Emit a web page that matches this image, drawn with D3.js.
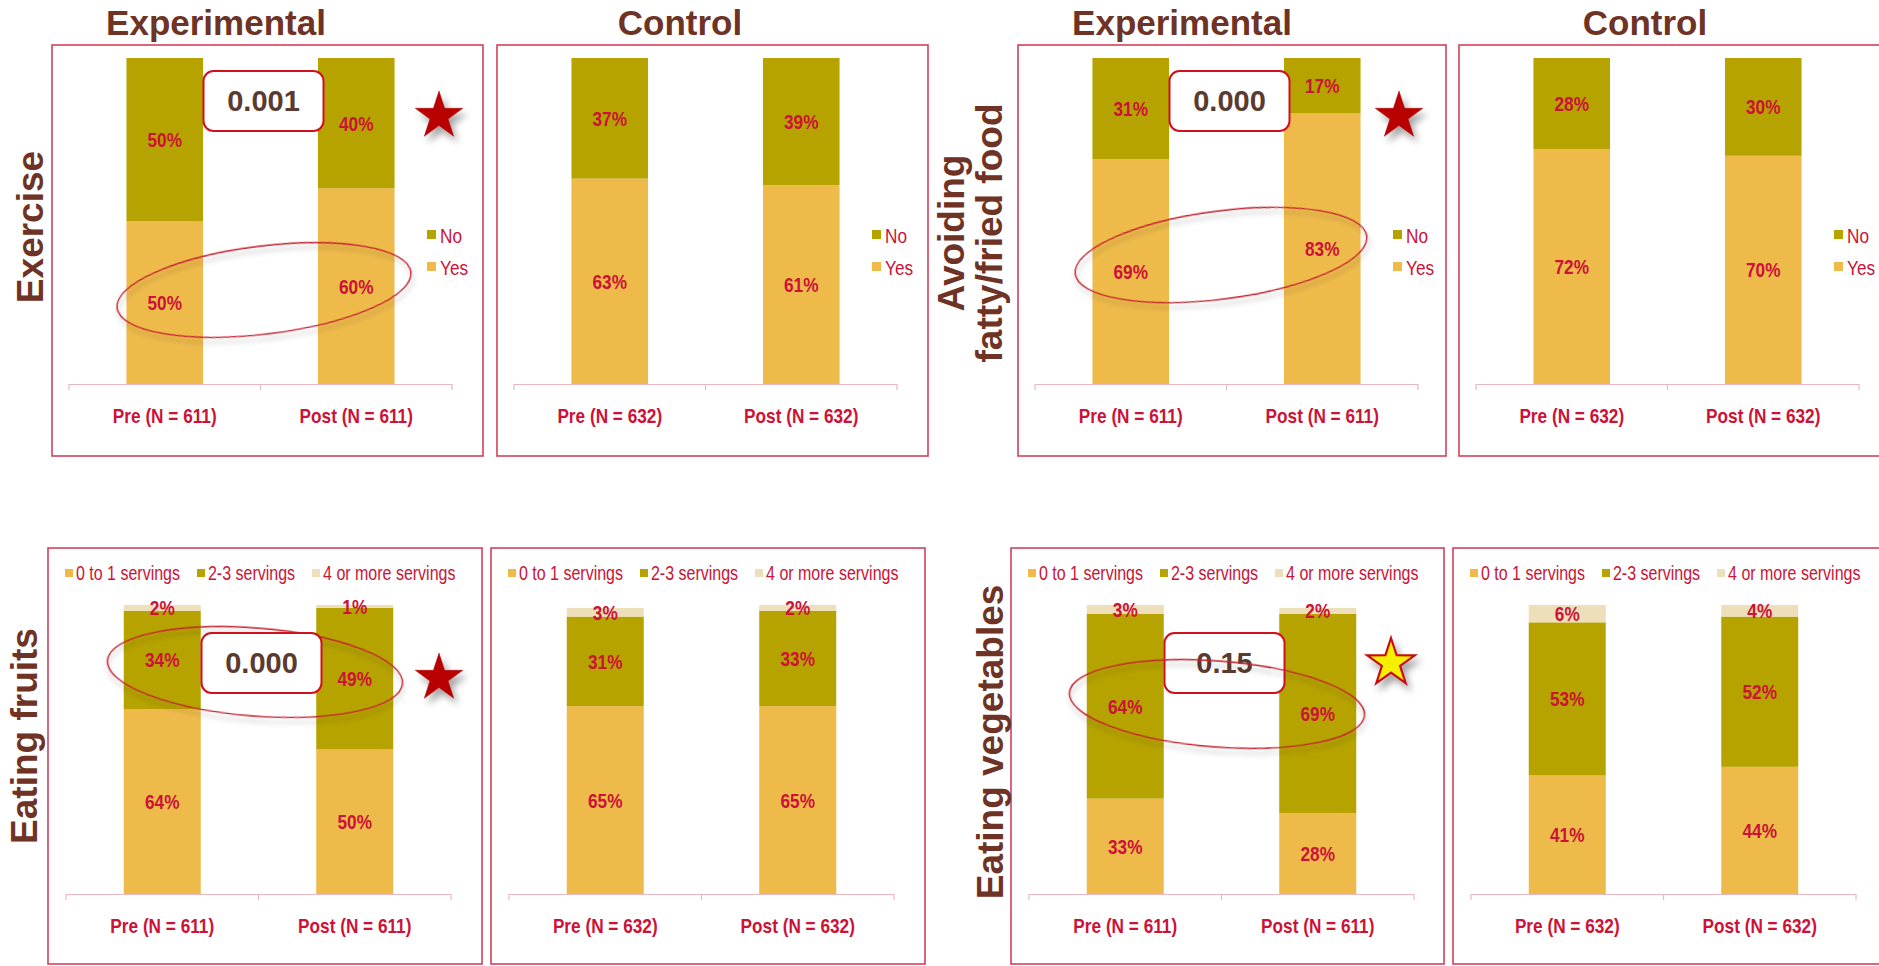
<!DOCTYPE html>
<html>
<head>
<meta charset="utf-8">
<script src="https://cdn.jsdelivr.net/npm/d3@7"></script>
<style>
  html, body { margin: 0; padding: 0; background: #ffffff; }
  svg { display: block; }
  .narrow { font-family: "Liberation Sans", Arial, sans-serif; }
  .wide { font-family: "Liberation Sans", Arial, sans-serif; }
</style>
</head>
<body>
<svg id="chart" width="1879" height="966"></svg>
<script>
// ---- data -------------------------------------------------------------
const groupNames = ["Experimental", "Control"];
const expTimepoints = ["Pre (N = 611)", "Post (N = 611)"];
const ctlTimepoints = ["Pre (N = 632)", "Post (N = 632)"];

const binaryKeys = ["Yes", "No"];
const servingKeys = ["0 to 1 servings", "2-3 servings", "4 or more servings"];

// Exercise
const exerciseExpYes = [50, 60];
const exerciseExpNo  = [50, 40];
const exerciseCtlYes = [63, 61];
const exerciseCtlNo  = [37, 39];

// Avoiding fatty/fried food
const fattyExpYes = [69, 83];
const fattyExpNo  = [31, 17];
const fattyCtlYes = [72, 70];
const fattyCtlNo  = [28, 30];

// Eating fruits
const fruitsExpLow  = [64, 50];
const fruitsExpMid  = [34, 49];
const fruitsExpHigh = [2, 1];
const fruitsCtlLow  = [65, 65];
const fruitsCtlMid  = [31, 33];
const fruitsCtlHigh = [3, 2];

// Eating vegetables
const vegExpLow  = [33, 28];
const vegExpMid  = [64, 69];
const vegExpHigh = [3, 2];
const vegCtlLow  = [41, 44];
const vegCtlMid  = [53, 52];
const vegCtlHigh = [6, 4];

const behaviourLabels = [["Exercise"], ["Avoiding", "fatty/fried food"], ["Eating fruits"], ["Eating vegetables"]];
const pValues = ["0.001", "0.000", "0.000", "0.15"];
const significant = [true, true, true, false];

// ---- styling ----------------------------------------------------------
const seriesColor = {
  "Yes": "#EEBB4B", "No": "#B6A300",
  "0 to 1 servings": "#EEBB4B", "2-3 servings": "#B6A300", "4 or more servings": "#EDDFBA"
};
const crimson = "#CC1236";
const brown = "#6E3325";
const frameColor = "#D4405A";
const axisColor = "#EBB7BF";
const condense = 0.82;   // horizontal squeeze for the condensed chart lettering

const svg = d3.select("#chart");
const defs = svg.append("defs");
defs.append("filter").attr("id", "starShadow")
  .attr("x", "-50%").attr("y", "-50%").attr("width", "200%").attr("height", "200%")
  .append("feDropShadow").attr("dx", 4).attr("dy", 6).attr("stdDeviation", 3.5)
  .attr("flood-color", "#000").attr("flood-opacity", 0.35);
defs.append("filter").attr("id", "ringShadow")
  .attr("x", "-20%").attr("y", "-40%").attr("width", "140%").attr("height", "180%")
  .append("feDropShadow").attr("dx", 1).attr("dy", 5).attr("stdDeviation", 2.5)
  .attr("flood-color", "#000").attr("flood-opacity", 0.28);

// condensed text placed at (x, y)
function narrowText(parent, x, y, str, size, weight, anchor) {
  return parent.append("text").attr("class", "narrow")
    .attr("transform", `translate(${x},${y}) scale(${condense},1)`)
    .attr("dy", "0.36em")
    .attr("text-anchor", anchor || "start")
    .attr("font-size", size).attr("font-weight", weight || "normal")
    .attr("fill", crimson)
    .text(str);
}

// ---- panel definitions --------------------------------------------------
function binaryRows(yes, no) {
  return [0, 1].map(i => ({ Yes: yes[i], No: no[i] }));
}
function servingRows(low, mid, high) {
  return [0, 1].map(i => ({ "0 to 1 servings": low[i], "2-3 servings": mid[i], "4 or more servings": high[i] }));
}

const panels = [
  { box: [52, 45, 431, 411],  kind: "binary",  group: 0, rows: binaryRows(exerciseExpYes, exerciseExpNo), cats: expTimepoints },
  { box: [497, 45, 431, 411], kind: "binary",  group: 1, rows: binaryRows(exerciseCtlYes, exerciseCtlNo), cats: ctlTimepoints },
  { box: [1018, 45, 428, 411], kind: "binary", group: 0, rows: binaryRows(fattyExpYes, fattyExpNo), cats: expTimepoints },
  { box: [1459, 45, 431, 411], kind: "binary", group: 1, rows: binaryRows(fattyCtlYes, fattyCtlNo), cats: ctlTimepoints },
  { box: [48, 548, 434, 416],  kind: "serving", group: 0, rows: servingRows(fruitsExpLow, fruitsExpMid, fruitsExpHigh), cats: expTimepoints },
  { box: [491, 548, 434, 416], kind: "serving", group: 1, rows: servingRows(fruitsCtlLow, fruitsCtlMid, fruitsCtlHigh), cats: ctlTimepoints },
  { box: [1011, 548, 433, 416], kind: "serving", group: 0, rows: servingRows(vegExpLow, vegExpMid, vegExpHigh), cats: expTimepoints },
  { box: [1453, 548, 434, 416], kind: "serving", group: 1, rows: servingRows(vegCtlLow, vegCtlMid, vegCtlHigh), cats: ctlTimepoints }
];

panels.forEach(p => {
  const [bx, by, bw, bh] = p.box;
  const keys = p.kind === "binary" ? binaryKeys : servingKeys;
  const top = p.kind === "binary" ? { x0: 17, x1: 400, yBase: 339, yTop: 13, cat: 370 }
                                  : { x0: 18, x1: 403, yBase: 346, yTop: 57, cat: 377 };
  const g = svg.append("g").attr("transform", `translate(${bx},${by})`);
  p.g = g;

  g.append("rect").attr("x", 0).attr("y", 0).attr("width", bw).attr("height", bh)
    .attr("fill", "none").attr("stroke", frameColor).attr("stroke-width", 1.6);

  const x = d3.scaleBand().domain(p.cats).range([top.x0, top.x1])
    .paddingInner(0.6).paddingOuter(0.3);
  const y = d3.scaleLinear().domain([0, 100]).range([top.yBase, top.yTop]);
  p.x = x; p.y = y; p.top = top;

  const stacked = d3.stack().keys(keys)(p.rows.map((r, i) => Object.assign({ cat: p.cats[i] }, r)));

  const layers = g.selectAll("g.layer").data(stacked).join("g").attr("class", "layer")
    .attr("fill", d => seriesColor[d.key]);
  layers.selectAll("rect").data(d => d).join("rect")
    .attr("x", d => x(d.data.cat))
    .attr("width", x.bandwidth())
    .attr("y", d => y(d[1]))
    .attr("height", d => y(d[0]) - y(d[1]));

  // value labels centred in each segment
  stacked.forEach(layer => {
    layer.forEach(d => {
      narrowText(g, x(d.data.cat) + x.bandwidth() / 2, (y(d[0]) + y(d[1])) / 2,
        (d[1] - d[0]) + "%", 21, "bold", "middle");
    });
  });

  // category axis with boundary ticks
  const ax = g.append("g");
  ax.append("line").attr("x1", top.x0).attr("x2", top.x1)
    .attr("y1", top.yBase + 0.5).attr("y2", top.yBase + 0.5)
    .attr("stroke", axisColor).attr("stroke-width", 1.2);
  const bounds = [top.x0, top.x0 + (top.x1 - top.x0) / 2, top.x1];
  ax.selectAll("line.tick").data(bounds).join("line").attr("class", "tick")
    .attr("x1", d => d).attr("x2", d => d)
    .attr("y1", top.yBase).attr("y2", top.yBase + 6)
    .attr("stroke", axisColor).attr("stroke-width", 1.2);
  p.cats.forEach(c => {
    narrowText(ax, x(c) + x.bandwidth() / 2, top.cat, c, 21, "bold", "middle");
  });

  // legends
  if (p.kind === "binary") {
    const lg = g.append("g").attr("transform", "translate(375,0)");
    ["No", "Yes"].forEach((k, i) => {
      const cy = 190 + i * 32;
      lg.append("rect").attr("x", 0).attr("y", cy - 5).attr("width", 9).attr("height", 9)
        .attr("fill", seriesColor[k]);
      narrowText(lg, 13, cy, k, 21, "normal", "start");
    });
  } else {
    let cx = 17;
    servingKeys.forEach(k => {
      g.append("rect").attr("x", cx).attr("y", 21).attr("width", 8).attr("height", 8)
        .attr("fill", seriesColor[k]);
      const t = narrowText(g, cx + 11, 25, k, 19.5, "normal", "start");
      cx += 11 + t.node().getComputedTextLength() * condense + 17;
    });
  }
});

// ---- column titles ------------------------------------------------------
[[0, 164], [1, 183], [2, 164], [3, 186]].forEach(([i, dx]) => {
  const p = panels[i];
  svg.append("text").attr("class", "wide")
    .attr("x", p.box[0] + dx).attr("y", 35)
    .attr("text-anchor", "middle")
    .attr("font-size", 35).attr("font-weight", "bold")
    .attr("fill", brown)
    .text(groupNames[p.group]);
});

// ---- row (behaviour) labels ----------------------------------------------
const rowLabelPos = [[43, 227], [1002, 233], [37, 736], [1003, 742]];
behaviourLabels.forEach((lines, i) => {
  const [bx, cy] = rowLabelPos[i];
  const t = svg.append("text").attr("class", "wide")
    .attr("transform", `translate(${bx},${cy}) rotate(-90)`)
    .attr("text-anchor", "middle")
    .attr("font-size", 37).attr("font-weight", "bold")
    .attr("fill", brown);
  lines.forEach((ln, j) => {
    t.append("tspan").attr("x", 0).attr("y", -(lines.length - 1 - j) * 38).text(ln);
  });
});

// ---- annotations: highlight rings, p-value boxes, stars --------------------
const experimentalPanels = [0, 2, 4, 6];
const ringGeom = [
  { cx: 264, cy: 290, rx: 148, ry: 44, rot: -7 },
  { cx: 1221, cy: 255, rx: 147, ry: 44, rot: -7.4 },
  { cx: 255, cy: 672, rx: 148, ry: 44, rot: 4.5 },
  { cx: 1217, cy: 704, rx: 148, ry: 43, rot: 4.4 }
];
const pBoxY = [71, 71, 633, 633];
const starPos = [[439, 116], [1399, 116], [439, 678], [1391, 663]];

function starPath(cx, cy, R) {
  const r = R * 0.382;
  const pts = d3.range(10).map(k => {
    const a = -Math.PI / 2 + k * Math.PI / 5;
    const rad = k % 2 === 0 ? R : r;
    return [cx + rad * Math.cos(a), cy + rad * Math.sin(a)];
  });
  return d3.line()(pts) + "Z";
}

function drawRing(i) {
  const e = ringGeom[i];
  svg.append("ellipse")
    .attr("transform", `translate(${e.cx},${e.cy}) rotate(${e.rot})`)
    .attr("rx", e.rx).attr("ry", e.ry)
    .attr("fill", "none").attr("stroke", "#C4222E").attr("stroke-width", 1.4)
    .attr("filter", "url(#ringShadow)");
}
function drawPBox(i) {
  const p = panels[experimentalPanels[i]];
  const mid = p.box[0] + p.top.x0 + (p.top.x1 - p.top.x0) / 2 + 3;
  const yb = pBoxY[i];
  svg.append("rect").attr("x", mid - 60).attr("y", yb).attr("width", 120).attr("height", 60)
    .attr("rx", 10).attr("fill", "#ffffff").attr("stroke", "#D0101E").attr("stroke-width", 2);
  svg.append("text").attr("class", "wide")
    .attr("x", mid).attr("y", yb + 30).attr("dy", "0.36em")
    .attr("text-anchor", "middle").attr("font-size", 29).attr("font-weight", "bold")
    .attr("fill", "#5B3A30").text(pValues[i]);
}

[0, 1, 2, 3].forEach(i => {
  if (i === 3) { drawPBox(i); drawRing(i); }
  else { drawRing(i); drawPBox(i); }
  const [sx, sy] = starPos[i];
  svg.append("path").attr("d", starPath(sx, sy, 25))
    .attr("fill", significant[i] ? "#B80000" : "#F5F000")
    .attr("stroke", significant[i] ? "#B00000" : "#C81010")
    .attr("stroke-width", significant[i] ? 0.5 : 2.2)
    .attr("stroke-linejoin", "miter")
    .attr("filter", "url(#starShadow)");
});
</script>
</body>
</html>
